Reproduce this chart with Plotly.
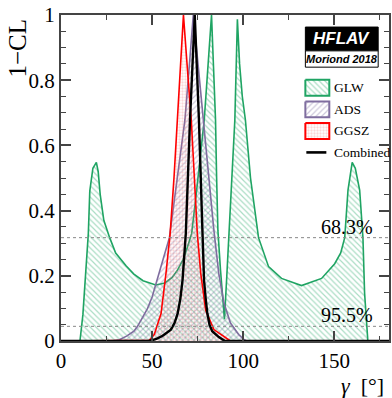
import plotly.graph_objects as go

# ---------------- data ----------------
gamma_glw = [0, 10.4, 12.0, 13.6, 15.0, 15.8, 17.5, 19.4, 20.4, 21.5, 23.5, 26.7, 30.0, 35.8,
             40.0, 45.0, 52.0, 57.0, 61.0, 64.0, 67.0, 69.5, 71.7, 74.0, 76.5, 78.6, 80.5,
             82.6, 83.7, 84.8, 85.4, 86.1, 87.5, 89.7, 91.0, 92.3, 93.5, 95.4, 96.8, 98.0,
             99.5, 101.2, 104.0, 108.4, 113.9, 121.0, 132.0, 143.0, 150.2, 153.5, 155.7,
             157.5, 159.8, 161.5, 163.9, 165.7, 166.6, 168.4, 180]
cl_glw = [0, 0, 0.08, 0.20, 0.33, 0.46, 0.53, 0.548, 0.52, 0.45, 0.37, 0.317, 0.27, 0.23,
          0.205, 0.185, 0.172, 0.178, 0.195, 0.218, 0.25, 0.29, 0.33, 0.44, 0.57, 0.678, 0.83,
          1.0, 0.84, 0.678, 0.5, 0.34, 0.22, 0.067, 0.2, 0.34, 0.46, 0.678, 0.987, 0.85,
          0.75, 0.678, 0.5, 0.317, 0.228, 0.192, 0.170, 0.192, 0.237, 0.27, 0.317,
          0.463, 0.548, 0.53, 0.463, 0.317, 0.147, 0, 0]

gamma_ads = [0, 28, 32, 36, 40, 42, 45, 47.5, 50, 53, 56, 59.5, 62, 65, 68, 70.5, 72.6,
             74.5, 76.5, 78.1, 80.5, 83.9, 86.6, 89.4, 93, 97.5, 100.3, 102, 180]
cl_ads = [0, 0, 0.004, 0.015, 0.03, 0.045, 0.075, 0.1, 0.135, 0.19, 0.25, 0.317, 0.42,
          0.55, 0.678, 0.85, 1.0, 0.89, 0.77, 0.678, 0.54, 0.34, 0.207, 0.117, 0.055, 0.02,
          0.005, 0, 0]

gamma_ggsz = [0, 46, 48.5, 51.2, 54.9, 57.6, 59.9, 62, 63.9, 65.5, 67.2, 69.3, 71.5, 73.2,
              74.8, 76.7, 79.4, 83.9, 89.4, 93, 180]
cl_ggsz = [0, 0, 0.002, 0.02, 0.084, 0.207, 0.33, 0.5, 0.678, 0.84, 1.0, 0.84, 0.678, 0.5,
           0.33, 0.207, 0.094, 0.035, 0.013, 0, 0]

gamma_comb = [0, 48, 50.3, 53, 55.8, 58, 60.3, 62.3, 64, 65.5, 66.7, 68.5, 70.8, 73.4,
              75.7, 77.6, 78.5, 79.4, 80.3, 81.5, 83, 86.6, 90, 180]
cl_comb = [0, 0, 0.003, 0.008, 0.016, 0.024, 0.035, 0.055, 0.084, 0.13, 0.187, 0.33,
           0.678, 1.0, 0.678, 0.34, 0.186, 0.13, 0.085, 0.05, 0.03, 0.012, 0, 0]

series_names = ["GLW", "ADS", "GGSZ", "Combined"]
cl_levels = [0.317, 0.045]
cl_labels = ["68.3%", "95.5%"]
x_ticks = [0, 50, 100, 150]
y_ticks = [0, 0.2, 0.4, 0.6, 0.8, 1]

# ---------------- styles ----------------
SERIF = "Liberation Serif, Times New Roman, serif"
SANS = "Liberation Sans, Arial, sans-serif"
AXC = "#444444"
styles = {
    "GLW": dict(line="#1fa463", fg="rgba(31,164,99,0.75)", shape="\\", size=4, sol=0.3),
    "ADS": dict(line="#7f6d9f", fg="rgba(110,95,150,0.7)", shape="/", size=4, sol=0.3),
    "GGSZ": dict(line="#ff0000", fg="rgba(240,110,110,0.55)", shape=".", size=3, sol=0.45),
}

fig = go.Figure()
data = {"GLW": (gamma_glw, cl_glw), "ADS": (gamma_ads, cl_ads), "GGSZ": (gamma_ggsz, cl_ggsz)}
for name in ["GLW", "ADS", "GGSZ"]:
    s = styles[name]
    gx, gy = data[name]
    fig.add_trace(go.Scatter(
        x=gx, y=gy, mode="lines", name=name, showlegend=False,
        line=dict(color=s["line"], width=1.6),
        fill="tozeroy", fillcolor="rgba(0,0,0,0)",
        fillpattern=dict(shape=s["shape"], fgcolor=s["fg"], bgcolor="rgba(0,0,0,0)",
                         size=s["size"], solidity=s["sol"], fillmode="overlay"),
    ))
fig.add_trace(go.Scatter(x=gamma_comb, y=cl_comb, mode="lines", name="Combined",
                         showlegend=False, line=dict(color="black", width=2.4)))

# ---------------- manual legend (overlay axes in plot-fraction units) ----------------
LEG_X0, LEG_W, LEG_TOP, LEG_H, LEG_PITCH, TXT_X = 0.745, 0.073, 0.801, 0.049, 0.066, 0.826
annotations = []
for i, name in enumerate(series_names):
    top = LEG_TOP - i * LEG_PITCH
    ymid = top - LEG_H / 2
    if name in styles:
        s = styles[name]
        fig.add_trace(go.Scatter(
            x=[LEG_X0, LEG_X0 + LEG_W, LEG_X0 + LEG_W, LEG_X0, LEG_X0],
            y=[top, top, top - LEG_H, top - LEG_H, top],
            xaxis="x2", yaxis="y2", mode="lines", showlegend=False, hoverinfo="skip",
            line=dict(color=s["line"], width=2), fill="toself", fillcolor="rgba(0,0,0,0)",
            fillpattern=dict(shape=s["shape"], fgcolor=s["fg"], bgcolor="rgba(0,0,0,0)",
                             size=s["size"], solidity=s["sol"], fillmode="overlay"),
        ))
    else:
        fig.add_trace(go.Scatter(
            x=[LEG_X0 + 0.003, LEG_X0 + 0.064], y=[ymid, ymid], xaxis="x2", yaxis="y2",
            mode="lines", showlegend=False, hoverinfo="skip",
            line=dict(color="black", width=2.6)))
    annotations.append(dict(x=TXT_X, y=ymid, xref="paper", yref="paper", text=name,
                            showarrow=False, xanchor="left", yanchor="middle",
                            font=dict(family=SERIF, size=13.5, color="black")))

# CL level labels
for lev, lab in zip(cl_levels, cl_labels):
    annotations.append(dict(x=0.958, y=lev, xref="paper", yref="y", text=lab,
                            showarrow=False, xanchor="right", yanchor="bottom", yshift=-2,
                            font=dict(family=SERIF, size=20, color="black")))

# HFLAV logo
annotations.append(dict(x=0.856, y=0.927, xref="paper", yref="paper", text="<b><i>HFLAV</i></b>",
                        showarrow=False, xanchor="center", yanchor="middle",
                        font=dict(family=SANS, size=17, color="white")))
annotations.append(dict(x=0.856, y=0.865, xref="paper", yref="paper",
                        text="<b><i>Moriond 2018</i></b>", showarrow=False,
                        xanchor="center", yanchor="middle",
                        font=dict(family=SANS, size=11, color="black")))
# axis titles
annotations.append(dict(x=0, y=0.897, xref="paper", yref="paper", text="1\u2212CL", textangle=-90,
                        showarrow=False, xanchor="center", yanchor="middle", xshift=-43,
                        font=dict(family=SERIF, size=25, color="black")))
annotations.append(dict(x=1, y=0, xref="paper", yref="paper", text="<i>\u03b3</i>  [\u00b0]",
                        showarrow=False, xanchor="right", yanchor="top", xshift=-3, yshift=-30,
                        font=dict(family=SERIF, size=22, color="black")))

shapes = []
for lev in cl_levels:
    shapes.append(dict(type="line", xref="paper", yref="y", x0=0, x1=1, y0=lev, y1=lev,
                       line=dict(color="#888888", width=1, dash="dot"), layer="above"))
shapes.append(dict(type="rect", xref="paper", yref="paper", x0=0.745, x1=0.967, y0=0.890,
                   y1=0.963, fillcolor="black", line=dict(color="black", width=1), layer="above"))
shapes.append(dict(type="rect", xref="paper", yref="paper", x0=0.745, x1=0.967, y0=0.840,
                   y1=0.890, fillcolor="white", line=dict(color="black", width=1), layer="above"))

axis_common = dict(showline=True, linecolor=AXC, linewidth=2, mirror="allticks",
                   ticks="inside", ticklen=10, tickwidth=1.5, tickcolor=AXC,
                   showgrid=False, zeroline=False, ticklabeloverflow="allow",
                   tickfont=dict(family=SERIF, size=21, color="black"))

fig.update_layout(
    width=392, height=398,
    margin=dict(l=61, r=1, t=15, b=57),
    paper_bgcolor="white", plot_bgcolor="white",
    xaxis=dict(range=[0, 180], tickvals=x_ticks,
               minor=dict(dtick=25, tick0=0, ticklen=5, ticks="inside", tickcolor=AXC,
                          tickwidth=1.2),
               **axis_common),
    yaxis=dict(range=[0, 1], tickvals=y_ticks, ticktext=[f"{v:g}" for v in y_ticks],
               minor=dict(dtick=0.05, tick0=0, ticklen=5, ticks="inside", tickcolor=AXC,
                          tickwidth=1.2),
               **axis_common),
    xaxis2=dict(overlaying="x", range=[0, 1], visible=False),
    yaxis2=dict(overlaying="y", range=[0, 1], visible=False),
    annotations=annotations, shapes=shapes, showlegend=False,
)

# remove the default 8px page margin so the 392x398 figure fills the window exactly
fig.write_html("out.html", config={"displayModeBar": False},
               post_script="document.body.style.margin='0';document.body.style.overflow='hidden';")
